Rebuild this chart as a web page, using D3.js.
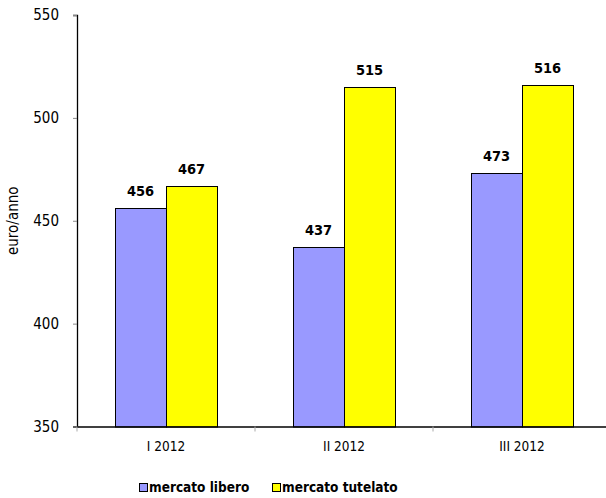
<!DOCTYPE html>
<html><head><meta charset="utf-8">
<script src="https://cdn.jsdelivr.net/npm/d3@7"></script>
<style>body{margin:0;background:#fff}svg{display:block}text{font-family:"DejaVu Sans Condensed","DejaVu Sans",sans-serif}</style>
</head><body>
<script>
const categories = ["I 2012", "II 2012", "III 2012"];
const seriesNames = ["mercato libero", "mercato tutelato"];
const libero = [456, 437, 473];
const tutelato = [467, 515, 516];
const yTicks = [350, 400, 450, 500, 550];
const colors = ["#9999FF", "#FFFF00"];

const W = 606, H = 498;
const m = {left: 77, top: 15, right: -5, bottom: 71.5};
const svg = d3.select("body").append("svg").attr("width", W).attr("height", H);
const x = d3.scaleBand().domain(categories).range([m.left, W - m.right]).paddingInner(0).paddingOuter(0);
const y = d3.scaleLinear().domain([350, 550]).range([H - m.bottom, m.top]);
const x1 = d3.scaleBand().domain(seriesNames).range([0, x.bandwidth()]).paddingInner(0).paddingOuter(0.745);

const data = categories.map((c, i) => ({c, vals: [libero[i], tutelato[i]]}));
const g = svg.append("g");
const groups = g.selectAll("g.grp").data(data).join("g").attr("transform", d => `translate(${x(d.c)},0)`);
groups.selectAll("rect").data(d => d.vals.map((v, k) => ({v, k}))).join("rect")
  .attr("x", d => Math.round(x1(seriesNames[d.k])) + 0.5)
  .attr("y", d => Math.round(y(d.v)) + 0.5)
  .attr("width", Math.round(x1.bandwidth()))
  .attr("height", d => y(350) - Math.round(y(d.v)))
  .attr("fill", d => colors[d.k]).attr("stroke", "#000").attr("stroke-width", 1);
groups.selectAll("text.val").data(d => d.vals.map((v, k) => ({v, k}))).join("text")
  .attr("class", "val")
  .attr("x", d => x1(seriesNames[d.k]) + x1.bandwidth() / 2)
  .attr("y", d => y(d.v) - 12)
  .attr("text-anchor", "middle").attr("font-size", 14.5).attr("font-weight", "bold")
  .text(d => d.v);

// y axis
const ya = svg.append("g").attr("transform", `translate(${m.left},0)`)
  .call(d3.axisLeft(y).tickValues(yTicks).tickSize(4).tickPadding(14));
ya.select(".domain").attr("stroke", "#000").attr("stroke-width", 1.3);
ya.selectAll(".tick line").attr("stroke", "#888");
ya.selectAll("text").attr("font-size", 15).attr("font-family", '"DejaVu Sans Condensed",sans-serif').attr("fill", "#000");

// x axis
const xa = svg.append("g").attr("transform", `translate(0,${y(350)})`)
  .call(d3.axisBottom(x).tickSize(0).tickPadding(15));
xa.select(".domain").attr("stroke", "#000").attr("stroke-width", 1.3);
xa.selectAll("text").attr("font-size", 13.5).attr("font-family", '"DejaVu Sans Condensed",sans-serif').attr("fill", "#000");
xa.selectAll("line.sep").data(categories).join("line").attr("class", "sep")
  .attr("x1", d => x(d)).attr("x2", d => x(d)).attr("y1", 0).attr("y2", 5)
  .attr("stroke", "#aaa");

// y label
svg.append("text").attr("transform", `translate(18,${(m.top + y(350)) / 2}) rotate(-90)`)
  .attr("text-anchor", "middle").attr("font-size", 15)
  .attr("font-family", '"Liberation Sans",Arial,sans-serif').text("euro/anno");

// legend
const leg = svg.append("g");
const lx = [139, 272];
seriesNames.forEach((s, i) => {
  leg.append("rect").attr("x", lx[i] + 0.5).attr("y", 483.5).attr("width", 8).attr("height", 8)
    .attr("fill", colors[i]).attr("stroke", "#000");
  leg.append("text").attr("x", lx[i] + 10).attr("y", 492).attr("font-size", 13.5).attr("font-weight", "bold").text(s);
});
</script>
</body></html>
